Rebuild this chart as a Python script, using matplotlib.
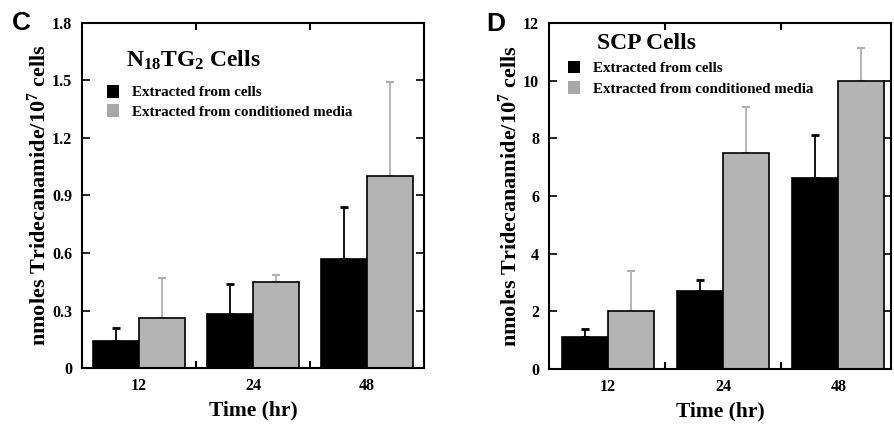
import numpy as np
import matplotlib
matplotlib.use("Agg")
import matplotlib.pyplot as plt
from matplotlib.patches import Patch

plt.rcParams['font.family'] = ['Liberation Serif', 'DejaVu Serif']
plt.rcParams['font.weight'] = 'bold'
plt.rcParams['mathtext.fontset'] = 'custom'
plt.rcParams['mathtext.rm'] = 'Liberation Serif:bold'
plt.rcParams['mathtext.it'] = 'Liberation Serif:bold'
plt.rcParams['mathtext.bf'] = 'Liberation Serif:bold'

# ---- data ----
times = ['12', '24', '48']
series_names = ['Extracted from cells', 'Extracted from conditioned media']

c_cells = [0.14, 0.28, 0.57]
c_cells_sd = [0.07, 0.16, 0.27]
c_media = [0.26, 0.45, 1.00]
c_media_sd = [0.21, 0.035, 0.49]
c_yticks = [0, 0.3, 0.6, 0.9, 1.2, 1.5, 1.8]
c_yticklabels = ['0', '0.3', '0.6', '0.9', '1.2', '1.5', '1.8']

d_cells = [1.12, 2.70, 6.62]
d_cells_sd = [0.25, 0.37, 1.48]
d_media = [2.00, 7.50, 10.00]
d_media_sd = [1.41, 1.60, 1.12]
d_yticks = [0, 2, 4, 6, 8, 10, 12]
d_yticklabels = ['0', '2', '4', '6', '8', '10', '12']

BLACK = '#000000'
GRAY = '#b4b4b4'
ERRGRAY = '#b0b0b0'

fig = plt.figure(figsize=(8.94, 4.25), dpi=100)

axC = fig.add_axes([0.0917, 0.134, 0.3826, 0.812])
axD = fig.add_axes([0.614, 0.132, 0.383, 0.814])


def draw_panel(ax, cells, cells_sd, media, media_sd, yticks, yticklabels, xlim):
    x = np.arange(len(times))
    w = 0.4
    ax.bar(x - w / 2, cells, w, color=BLACK, edgecolor=BLACK, linewidth=1.2, zorder=2)
    ax.bar(x + w / 2, media, w, color=GRAY, edgecolor=BLACK, linewidth=1.2, zorder=2)
    ax.errorbar(x - w / 2, cells, yerr=[np.zeros(len(cells)), cells_sd], fmt='none',
                ecolor=BLACK, elinewidth=1.3, capsize=3, capthick=2, zorder=3)
    ax.errorbar(x + w / 2, media, yerr=[np.zeros(len(media)), media_sd], fmt='none',
                ecolor=ERRGRAY, elinewidth=1.3, capsize=3, capthick=1.5, zorder=1)
    ax.set_xlim(*xlim)
    ax.set_ylim(yticks[0], yticks[-1])
    ax.set_yticks(yticks)
    ax.set_yticklabels(yticklabels, fontsize=11.5, fontweight='bold')
    ax.set_xticks(x)
    ax.set_xticklabels(times, fontsize=11.5, fontweight='bold')
    ax.set_xticks([0.5, 1.5], minor=True)
    ax.tick_params(axis='x', which='major', length=0, pad=7)
    ax.tick_params(axis='x', which='minor', direction='in', length=5, width=1.5,
                   top=True, bottom=True)
    ax.tick_params(axis='y', which='major', direction='in', length=6, width=1.2,
                   left=True, right=True, pad=7)
    for s in ax.spines.values():
        s.set_linewidth(1.5)
    ax.set_xlabel('Time (hr)', fontsize=15.5, fontweight='bold', labelpad=5)
    ax.set_ylabel('nmoles Tridecanamide/10$^{7}$ cells', fontsize=16, fontweight='bold',
                  labelpad=1)


draw_panel(axC, c_cells, c_cells_sd, c_media, c_media_sd, c_yticks, c_yticklabels,
           (-0.5, 2.5))
draw_panel(axD, d_cells, d_cells_sd, d_media, d_media_sd, d_yticks, d_yticklabels,
           (-0.51, 2.46))

# titles
axC.text(0.13, 0.893, r'N$_{18}$TG$_{2}$ Cells', transform=axC.transAxes,
         fontsize=17, fontweight='bold', ha='left', va='center')
axD.text(0.14, 0.94, 'SCP Cells', transform=axD.transAxes,
         fontsize=17, fontweight='bold', ha='left', va='center')

handles = [Patch(facecolor=BLACK, edgecolor='none'), Patch(facecolor='#a8a8a8', edgecolor='none')]
axC.legend(handles, series_names, loc='upper left', bbox_to_anchor=(0.073, 0.82),
           frameon=False, prop={'family': 'Liberation Serif', 'weight': 'bold', 'size': 10.8},
           handlelength=0.8, handleheight=0.9, handletextpad=0.9, labelspacing=0.33,
           borderaxespad=0, borderpad=0)
axD.legend(handles, series_names, loc='upper left', bbox_to_anchor=(0.055, 0.89),
           frameon=False, prop={'family': 'Liberation Serif', 'weight': 'bold', 'size': 10.8},
           handlelength=0.8, handleheight=0.9, handletextpad=0.9, labelspacing=0.38,
           borderaxespad=0, borderpad=0)

# panel letters
fig.text(0.013, 0.945, 'C', fontsize=19, fontweight='bold', family='Liberation Sans',
         ha='left', va='center')
fig.text(0.544, 0.943, 'D', fontsize=19, fontweight='bold', family='Liberation Sans',
         ha='left', va='center')

fig.savefig('out.png', dpi=100)
